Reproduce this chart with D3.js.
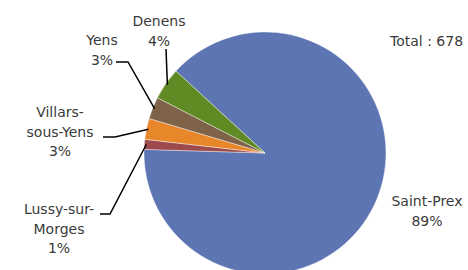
<!DOCTYPE html>
<html>
<head>
<meta charset="utf-8">
<script src="https://cdn.jsdelivr.net/npm/d3@7"></script>
<style>
  html, body { margin: 0; padding: 0; background: #fff; }
  svg { display: block; }
  text { font-family: "DejaVu Sans", sans-serif; font-size: 14px; fill: #3a3a3a; }
</style>
</head>
<body>
<svg width="468" height="270"></svg>
<script>
// data
const communes = ["Saint-Prex", "Lussy-sur-Morges", "Villars-sous-Yens", "Yens", "Denens"];
const counts = [601, 9, 19, 20, 29];
const nameLines = [["Saint-Prex"], ["Lussy-sur-", "Morges"], ["Villars-", "sous-Yens"], ["Yens"], ["Denens"]];
const totalLabel = "Total : 678";

const colors = ["#5e75b3", "#9c4a4c", "#e8862a", "#7e6349", "#5f8a24"];

// label placement: x,y = first baseline, knee = where the leader line bends
const labelPos = [
  {x: 427, y: 206, knee: null},
  {x: 59,  y: 214, knee: [[100, 214], [110, 214]]},
  {x: 60,  y: 117, knee: [[103, 137], [115, 137]]},
  {x: 102, y: 45,  knee: [[116, 62], [128, 62]]},
  {x: 159, y: 26,  knee: [[166, 49], [166, 49]]}
];

const svg = d3.select("svg");
const cx = 265, cy = 153, r = 121;
const total = d3.sum(counts);
const pct = d3.format(".0%");

const pie = d3.pie().sort(null)
  .startAngle(-47.4 * Math.PI / 180)
  .endAngle((360 - 47.4) * Math.PI / 180);
const arcs = pie(counts);
const arc = d3.arc().innerRadius(0).outerRadius(r);
const edge = d3.arc().innerRadius(r - 2).outerRadius(r - 2);

const g = svg.append("g").attr("transform", `translate(${cx},${cy})`);
g.selectAll("path")
  .data(arcs)
  .enter()
  .append("path")
  .attr("d", arc)
  .attr("fill", (d, i) => colors[i])
  .attr("stroke", "#fff")
  .attr("stroke-width", 0.6)
  .attr("stroke-opacity", 0.7);

// leader lines
arcs.forEach((d, i) => {
  const k = labelPos[i].knee;
  if (!k) return;
  const p = edge.centroid(d);
  const pts = [k[0], k[1], [p[0] + cx, p[1] + cy]];
  svg.append("path")
    .attr("d", d3.line()(pts))
    .attr("fill", "none")
    .attr("stroke", "#000")
    .attr("stroke-width", 1.5);
});

// labels
arcs.forEach((d, i) => {
  const lines = nameLines[i].concat([pct(counts[i] / total)]);
  const t = svg.append("text")
    .attr("text-anchor", "middle")
    .attr("x", labelPos[i].x)
    .attr("y", labelPos[i].y);
  lines.forEach((s, j) => {
    t.append("tspan")
      .attr("x", labelPos[i].x)
      .attr("dy", j === 0 ? 0 : 19.5)
      .text(s);
  });
});

svg.append("text")
  .attr("x", 390)
  .attr("y", 46)
  .text(totalLabel);
</script>
</body>
</html>
